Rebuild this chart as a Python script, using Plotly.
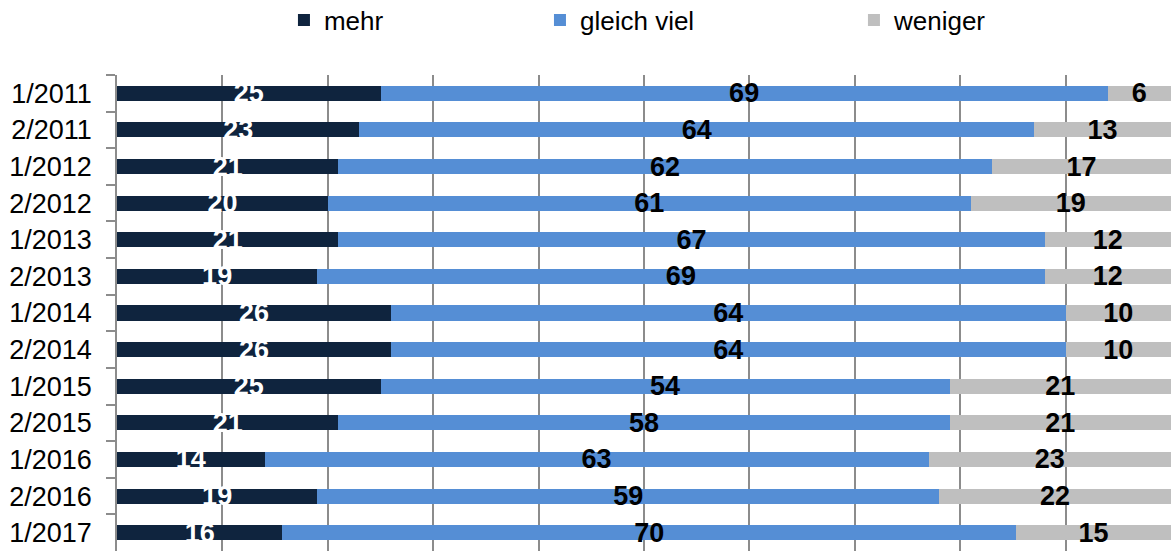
import plotly.graph_objects as go

categories = ["1/2011", "2/2011", "1/2012", "2/2012", "1/2013", "2/2013", "1/2014",
              "2/2014", "1/2015", "2/2015", "1/2016", "2/2016", "1/2017"]
mehr = [25, 23, 21, 20, 21, 19, 26, 26, 25, 21, 14, 19, 15.7]
gleich_viel = [69, 64, 62, 61, 67, 69, 64, 64, 54, 58, 63, 59, 69.6]
weniger = [6, 13, 17, 19, 12, 12, 10, 10, 21, 21, 23, 22, 14.7]

series_names = ["mehr", "gleich viel", "weniger"]
series_values = [mehr, gleich_viel, weniger]
colors = ["#0F243E", "#558ED5", "#BFBFBF"]
text_colors = ["white", "black", "black"]
legend_ids = ["legend", "legend2", "legend3"]
legend_x = [0.1584, 0.4013, 0.6992]

FONT = "Liberation Sans, Arial, sans-serif"

fig = go.Figure()
for name, vals, col, tcol, lg in zip(series_names, series_values, colors, text_colors, legend_ids):
    fig.add_trace(go.Bar(
        y=categories, x=vals, name=name, orientation="h",
        marker=dict(color=col, line=dict(width=0)),
        texttemplate="<b>%{x:.0f}</b>", textposition="inside",
        insidetextanchor="middle", textangle=0, cliponaxis=False,
        textfont=dict(color=tcol, size=27, family=FONT),
        legend=lg, showlegend=True, hoverinfo="skip",
    ))

legend_common = dict(orientation="h", font=dict(size=26, family=FONT, color="black"),
                     bgcolor="rgba(0,0,0,0)", yanchor="middle", xanchor="left",
                     y=1.1155, visible=True)
fig.update_layout(
    barmode="stack", bargap=0.59,
    width=1171, height=553,
    margin=dict(l=117, r=0, t=75, b=2, autoexpand=False),
    paper_bgcolor="white", plot_bgcolor="white",
    font=dict(family=FONT, color="black"),
    showlegend=True,
    legend=dict(x=legend_x[0], **legend_common),
    legend2=dict(x=legend_x[1], **legend_common),
    legend3=dict(x=legend_x[2], **legend_common),
    uniformtext=dict(minsize=27, mode="show"),
)
fig.update_xaxes(range=[0, 100], dtick=10, showgrid=True, gridcolor="#8C8C8C",
                 gridwidth=1.5, showticklabels=False, zeroline=False, showline=False)
fig.update_yaxes(autorange="reversed", showline=True, linecolor="#8C8C8C", linewidth=1.5,
                 ticks="outside", tickson="boundaries", ticklen=9, tickcolor="#8C8C8C",
                 tickwidth=1.5, tickfont=dict(size=27, family=FONT, color="black"),
                 ticklabelstandoff=18, showgrid=False)

fig.write_html("out.html", config={"displayModeBar": False},
               post_script="document.body.style.margin='0';")
